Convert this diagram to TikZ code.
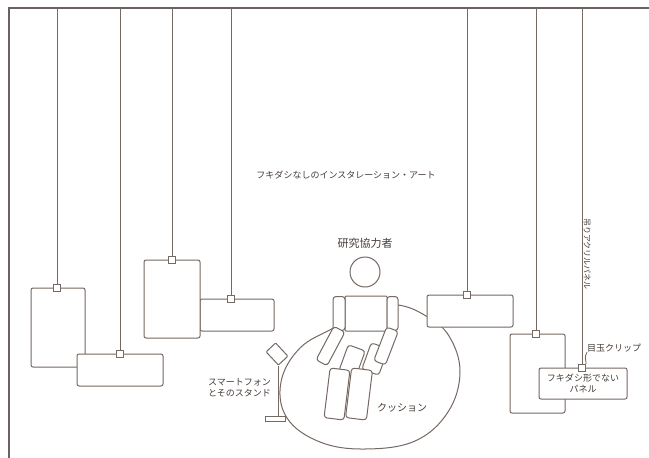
\documentclass[tikz,border=0pt]{standalone}
\usepackage{fontspec}
\setmainfont{Noto Sans CJK JP}
\definecolor{linebrown}{RGB}{118,104,98}
\definecolor{framegray}{RGB}{105,98,94}
\definecolor{inkbrown}{RGB}{70,60,56}
\begin{document}
\begin{tikzpicture}[x=1pt,y=-1pt,
  panel/.style={draw=linebrown,fill=white,line width=1pt,rounded corners=2pt,inner sep=0pt},
  clip/.style={draw=linebrown,fill=white,line width=0.8pt,minimum size=7.5pt,inner sep=0pt},
  wire/.style={draw=linebrown,line width=0.85pt},
  body/.style={draw=linebrown,fill=white,line width=1pt,rounded corners=3pt,inner sep=0pt},
  label/.style={text=inkbrown,inner sep=0pt,font=\fontsize{9}{11.5}\selectfont}]
\useasboundingbox (0,0) rectangle (649,458);
\fill[white] (0,0) rectangle (649,458);

% room frame
\draw[framegray,line width=1.2pt] (649,8) -- (9,8) -- (9,458);

% cushion
\draw[linebrown,line width=1pt,fill=white] plot[smooth cycle,tension=0.65] coordinates
  {(335,327) (300,348) (281,382) (287,418) (320,442) (365,449) (415,441) (448,412) (460,372) (449,336) (426,316) (398,305) (366,308)};

% hanging panels, left group
\node[panel,minimum width=54pt,minimum height=79pt] (p1) at (58,327.5) {};
\node[panel,minimum width=86pt,minimum height=32pt] (p2) at (120,370) {};
\node[panel,minimum width=74pt,minimum height=32pt] (p4) at (237,315) {};
\node[panel,minimum width=56pt,minimum height=78pt] (p3) at (172,299) {};
% right group
\node[panel,minimum width=86pt,minimum height=32pt] (p5) at (470,311) {};
\node[panel,minimum width=55pt,minimum height=79pt] (p6) at (537.5,373.5) {};
\node[panel,minimum width=88pt,minimum height=31pt,align=center,text=inkbrown,
      font=\fontsize{9}{11.5}\selectfont] (p7) at (583,383.5) {フキダシ形でない\\パネル};

% clips and wires
\foreach \n/\x/\y in {c1/57/288, c2/120/354, c3/172/260, c4/231/299, c5/467/295, c6/536/334, c7/582/368}{
  \node[clip] (\n) at (\x,\y) {};
  \coordinate (\n top) at (\x,8);
  \draw[wire] (\n top) -- (\n.north);
}

% seated person
\node[body,minimum width=18pt,minimum height=28pt,rotate=-20] (thighL) at (352,361) {};
\node[body,minimum width=18pt,minimum height=28pt,rotate=-20] (thighR) at (375,359) {};
\node[body,minimum width=20pt,minimum height=50pt,rotate=-7] (shinL) at (337,394) {};
\node[body,minimum width=21pt,minimum height=50pt,rotate=-7] (shinR) at (359,394) {};
\node[body,minimum width=42pt,minimum height=35pt,rounded corners=1pt] (torso) at (366,313.5) {};
\node[body,minimum width=12pt,minimum height=34pt] (armL) at (339,313.5) {};
\node[body,minimum width=11pt,minimum height=34pt] (armR) at (392.5,313.5) {};
\node[body,minimum width=12.5pt,minimum height=38pt,rotate=-28] (foreL) at (330.5,346) {};
\node[body,minimum width=12.5pt,minimum height=36pt,rotate=-21] (foreR) at (386,346) {};
\node[draw=linebrown,fill=white,line width=1pt,circle,minimum size=30pt,inner sep=0pt] (head) at (365,272) {};

% smartphone on its stand
\node[draw=linebrown,fill=white,line width=1pt,minimum width=18pt,minimum height=13pt,inner sep=0pt,rotate=-47,rounded corners=1pt] (phone) at (277,354) {};
\node[draw=linebrown,fill=white,line width=1pt,minimum width=20pt,minimum height=5pt,inner sep=0pt] (base) at (275,418.5) {};
\draw[wire,line width=1pt] (phone.south east) -- (phone.south east |- base.north);

% labels
\node[label] (title) at (346,175) {フキダシなしのインスタレーション・アート};
\node[label,font=\fontsize{11}{13}\selectfont] (who) at (365,243) {研究協力者};
\node[label,font=\fontsize{10}{12}\selectfont] (cushion) at (402,408) {クッション};
\node[label,align=right,anchor=east] (phonelbl) at (271,388) {スマートフォン\\とそのスタンド};
\node[label,rotate=-90,font=\fontsize{8}{10}\selectfont] (acryl) at (587,254) {吊りアクリルパネル};
\node[label,anchor=west] (cliplbl) at (587,348) {目玉クリップ};
\draw[wire] (c7.north east) .. controls (586,360) and (584,357) .. (cliplbl.south west);
\end{tikzpicture}
\end{document}
